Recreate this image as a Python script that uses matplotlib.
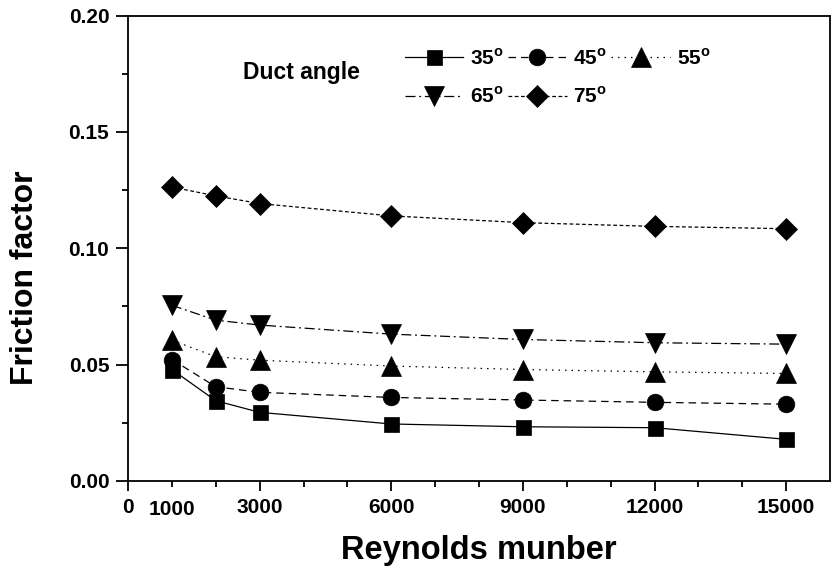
import matplotlib
matplotlib.use("Agg")
import matplotlib.pyplot as plt
from matplotlib.ticker import FixedLocator, FixedFormatter, MultipleLocator, FormatStrFormatter

plt.rcParams['font.family'] = ['Liberation Sans', 'DejaVu Sans']
plt.rcParams['font.weight'] = 'bold'
plt.rcParams['mathtext.fontset'] = 'custom'
plt.rcParams['mathtext.rm'] = 'Liberation Sans:bold'
plt.rcParams['mathtext.bf'] = 'Liberation Sans:bold'

reynolds = [1000, 2000, 3000, 6000, 9000, 12000, 15000]
angles = ['35', '45', '55', '65', '75']
f35 = [0.0479, 0.0345, 0.0295, 0.0245, 0.0233, 0.0229, 0.0179]
f45 = [0.0522, 0.0405, 0.0381, 0.0359, 0.0348, 0.0338, 0.0330]
f55 = [0.0605, 0.0534, 0.0519, 0.0494, 0.0479, 0.0469, 0.0462]
f65 = [0.0755, 0.0691, 0.0670, 0.0631, 0.0608, 0.0594, 0.0588]
f75 = [0.1263, 0.1225, 0.1192, 0.1139, 0.1110, 0.1094, 0.1084]
x_major_ticks = [0, 3000, 6000, 9000, 12000, 15000]
x_major_labels = ['0', '3000', '6000', '9000', '12000', '15000']

series = [f35, f45, f55, f65, f75]
markers = ['s', 'o', '^', 'v', 'D']
msizes = [10.8, 12.0, 14.0, 14.0, 10.7]
lstyles = ['-', (0, (6, 4)), (0, (1.2, 4)), (0, (8, 3, 1.5, 3)), (0, (3, 2))]

W, H = 832, 572
fig = plt.figure(figsize=(W/100, H/100), dpi=100)
ax = fig.add_axes([128/W, (H-481)/H, (830-128)/W, (481-15.5)/H])

handles = []
for vals, ang, mk, ms, ls in zip(series, angles, markers, msizes, lstyles):
    h, = ax.plot(reynolds, vals, linestyle=ls, color='black', linewidth=0.9,
                 marker=mk, markersize=ms, markerfacecolor='black',
                 markeredgecolor='black', markeredgewidth=0.5,
                 label=ang + r'$^{\mathbf{o}}$')
    handles.append(h)

ax.set_xlim(0, 16000)
ax.set_ylim(0, 0.20)

ax.xaxis.set_major_locator(FixedLocator(x_major_ticks))
ax.xaxis.set_major_formatter(FixedFormatter(x_major_labels))
ax.xaxis.set_minor_locator(FixedLocator([1000, 2000, 4000, 5000, 7000, 8000, 10000, 11000, 13000, 14000]))
ax.xaxis.set_minor_formatter(FixedFormatter(['1000', '', '', '', '', '', '', '', '', '']))
ax.yaxis.set_major_locator(MultipleLocator(0.05))
ax.yaxis.set_minor_locator(MultipleLocator(0.025))
ax.yaxis.set_major_formatter(FormatStrFormatter('%.2f'))

ax.tick_params(axis='y', which='major', direction='out', length=8.5, width=1.3,
               labelsize=15, pad=5)
ax.tick_params(axis='y', which='minor', direction='out', length=4.5, width=1.3)
ax.tick_params(axis='x', which='major', direction='out', length=7, width=1.3,
               labelsize=15, pad=5)
ax.tick_params(axis='x', which='minor', direction='out', length=4, width=1.3,
               labelsize=15, pad=10)
for lab in ax.get_xticklabels(which='both') + ax.get_yticklabels():
    lab.set_fontweight('bold')
for sp in ax.spines.values():
    sp.set_linewidth(1.3)

ax.set_xlabel('Reynolds munber', fontsize=23.5, fontweight='bold', va='center')
ax.xaxis.set_label_coords(0.5, (481-551)/465.5)
ax.set_ylabel('Friction factor', fontsize=23, fontweight='bold', va='center')
ax.yaxis.set_label_coords((25-128)/702, (481-277.5)/465.5)

fig.text(243/W, 1-73/H, 'Duct angle', fontsize=16.5, fontweight='bold',
         va='center', ha='left')
order = [0, 3, 1, 4, 2]
leg = ax.legend([handles[i] for i in order], [handles[i].get_label() for i in order],
                ncol=3, loc='upper left', bbox_to_anchor=(405/W, 1-48/H),
                bbox_transform=fig.transFigure, frameon=False,
                fontsize=15, handlelength=2.8, handletextpad=0.33, columnspacing=0.2,
                labelspacing=0.85, markerscale=1.0, borderpad=0, borderaxespad=0)
for t in leg.get_texts():
    t.set_fontweight('bold')

fig.savefig('out.png', dpi=100)
